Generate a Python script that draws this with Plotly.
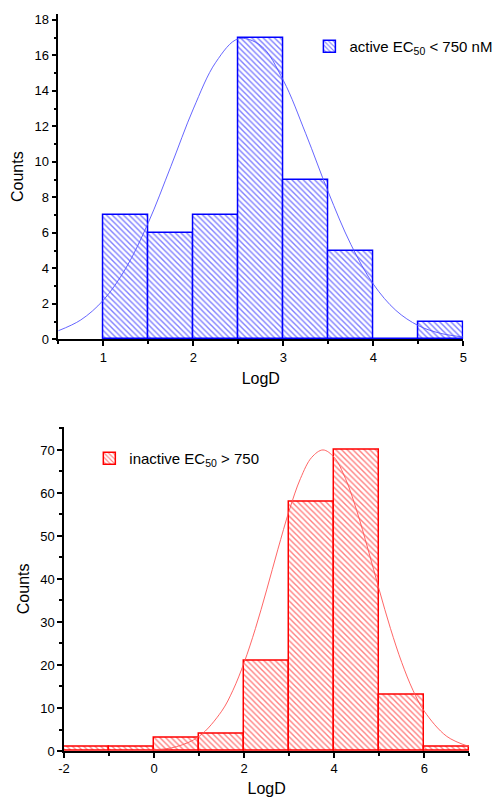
import plotly.graph_objects as go

# ---------------- data ----------------
active_bin_left = [1.0, 1.5, 2.0, 2.5, 3.0, 3.5, 4.0, 4.5]
active_counts = [7, 6, 7, 17, 9, 5, 0, 1]
active_bin_width = 0.5
active_fit_x = [0.5, 0.75, 1.0, 1.25, 1.5, 1.75, 2.0, 2.25, 2.5, 2.75, 3.0,
                3.25, 3.5, 3.75, 4.0, 4.25, 4.5, 4.75, 5.0]
active_fit_y = [0.48, 1.09, 2.20, 4.0, 6.57, 9.73, 12.98, 15.61, 16.93, 16.55,
                14.59, 11.58, 8.29, 5.35, 3.11, 1.63, 0.77, 0.33, 0.13]

inactive_bin_left = [-2, -1, 0, 1, 2, 3, 4, 5, 6]
inactive_counts = [1, 1, 3, 4, 21, 58, 70, 13, 1]
inactive_bin_width = 1.0
inactive_fit_x = [-2, -1, 0, 0.5, 1.0, 1.5, 1.75, 2.0, 2.25, 2.5, 2.75, 3.0,
                  3.25, 3.5, 3.75, 4.0, 4.25, 4.5, 4.75, 5.0, 5.25, 5.5, 5.75,
                  6.0, 6.5, 7.0]
inactive_fit_y = [0.0, 0.01, 0.25, 1.02, 3.40, 9.25, 14.1, 20.57, 28.46, 37.46,
                  46.92, 55.9, 63.34, 68.27, 70.0, 68.27, 63.34, 55.9, 46.92,
                  37.46, 28.46, 20.57, 14.1, 9.25, 3.40, 1.02]

top_x_ticks = [1, 2, 3, 4, 5]
top_x_ticktext = ["1", "2", "3", "4", "5"]
bottom_x_ticks = [-2, 0, 2, 4, 6]
bottom_x_ticktext = ["-2", "0", "2", "4", "6"]

active_label = "active EC<sub>50</sub> &lt; 750 nM"
inactive_label = "inactive EC<sub>50</sub> &gt; 750"

BLUE = "#0000ff"
RED = "#ff0000"
FONT = "Liberation Sans, Arial, sans-serif"

fig = go.Figure()

fig.add_trace(go.Bar(
    x=active_bin_left, y=active_counts, width=active_bin_width, offset=0,
    xaxis="x", yaxis="y", name=active_label, legend="legend",
    marker=dict(color="white", line=dict(color=BLUE, width=1.5),
                pattern=dict(shape="\\", fgcolor=BLUE, bgcolor="white",
                             size=4, solidity=0.35)),
))
fig.add_trace(go.Scatter(
    x=active_fit_x, y=active_fit_y, mode="lines", xaxis="x", yaxis="y",
    line=dict(color="#5555ff", width=0.9, shape="spline"), showlegend=False,
))

fig.add_trace(go.Bar(
    x=inactive_bin_left, y=inactive_counts, width=inactive_bin_width, offset=0,
    xaxis="x2", yaxis="y2", name=inactive_label, legend="legend2",
    marker=dict(color="white", line=dict(color=RED, width=1.5),
                pattern=dict(shape="\\", fgcolor=RED, bgcolor="white",
                             size=4, solidity=0.35)),
))
fig.add_trace(go.Scatter(
    x=inactive_fit_x, y=inactive_fit_y, mode="lines", xaxis="x2", yaxis="y2",
    line=dict(color="#ff5555", width=0.9, shape="spline"), showlegend=False,
))

axis_common = dict(
    showline=True, linecolor="black", linewidth=1.5, mirror=False,
    ticks="outside", ticklen=5, tickwidth=1.5, tickcolor="black",
    showgrid=False, zeroline=False, automargin=False,
    tickfont=dict(size=13, color="black", family=FONT),
    title_font=dict(size=16, color="black", family=FONT),
)

fig.update_layout(
    width=499, height=800,
    margin=dict(l=0, r=0, t=0, b=0),
    paper_bgcolor="white", plot_bgcolor="white",
    font=dict(family=FONT, color="black"),
    bargap=0,
    xaxis=dict(axis_common, domain=[0.1168, 0.9285], anchor="y",
               range=[0.5, 5.0], tickvals=top_x_ticks, ticktext=top_x_ticktext,
               minor=dict(dtick=0.5, tick0=0.5, ticks="outside", ticklen=3,
                          tickwidth=1.5, tickcolor="black"),
               title=dict(text="LogD", standoff=9)),
    yaxis=dict(axis_common, domain=[0.5759, 0.9825], anchor="x",
               range=[0, 18.33], dtick=2, tick0=0,
               minor=dict(dtick=1, ticks="outside", ticklen=3,
                          tickwidth=1.5, tickcolor="black"),
               title=dict(text="Counts", standoff=7)),
    xaxis2=dict(axis_common, domain=[0.1283, 0.9405], anchor="y2",
                range=[-2, 7], tickvals=bottom_x_ticks,
                ticktext=bottom_x_ticktext,
                minor=dict(dtick=1, tick0=-1, ticks="outside", ticklen=3,
                           tickwidth=1.5, tickcolor="black"),
                title=dict(text="LogD", standoff=7)),
    yaxis2=dict(axis_common, domain=[0.06125, 0.4666], anchor="x2",
                range=[0, 75.4], dtick=10, tick0=0,
                minor=dict(dtick=5, ticks="outside", ticklen=3,
                           tickwidth=1.5, tickcolor="black"),
                title=dict(text="Counts", standoff=7)),
    legend=dict(x=0.62, y=0.9625, xanchor="left", yanchor="top",
                bgcolor="rgba(0,0,0,0)",
                font=dict(size=15, color="black", family=FONT)),
    legend2=dict(x=0.179, y=0.4475, xanchor="left", yanchor="top",
                 bgcolor="rgba(0,0,0,0)",
                 font=dict(size=15, color="black", family=FONT)),
)

fig.write_html(
    "out.html",
    config={"displayModeBar": False},
    post_script="document.body.style.margin='0';"
                "document.body.style.overflow='hidden';",
)
